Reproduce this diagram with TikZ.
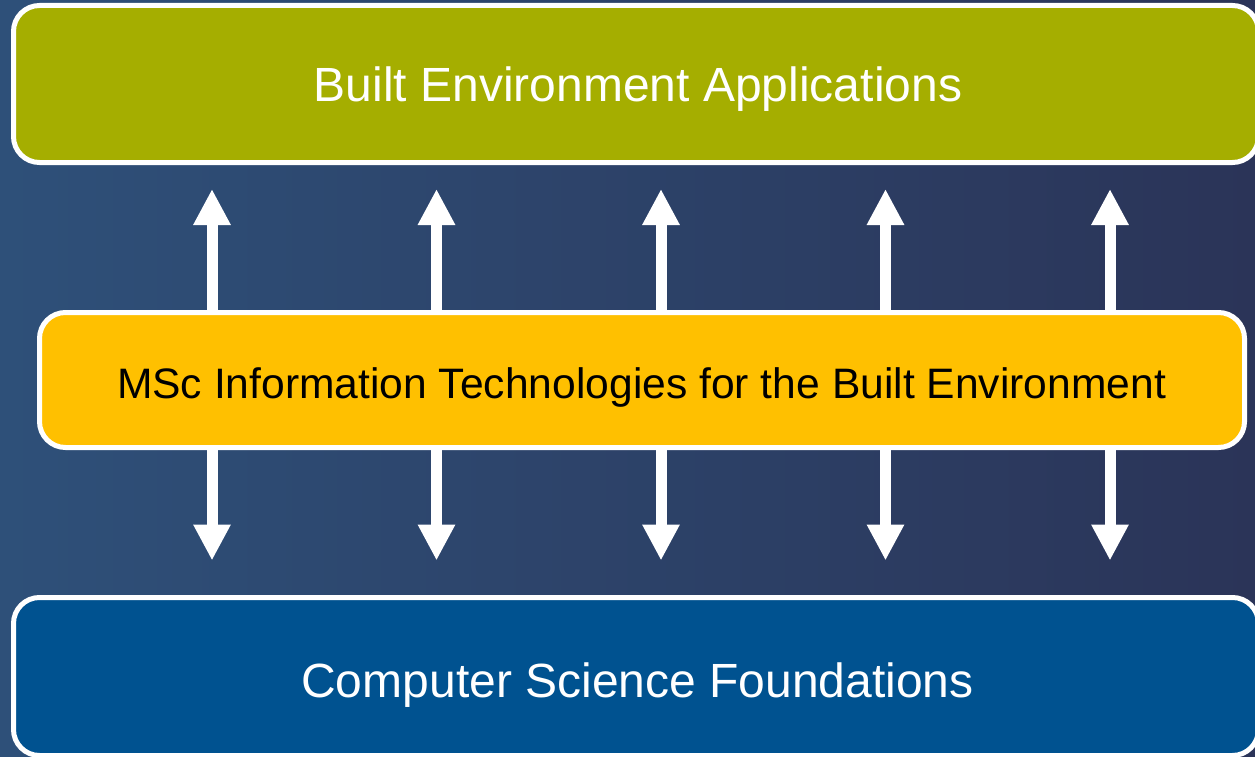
\documentclass[tikz,border=0pt]{standalone}
\usepackage{fontspec}
\setmainfont{Liberation Sans}
\usetikzlibrary{arrows.meta}
\definecolor{bgleft}{RGB}{46,80,121}
\definecolor{bgright}{RGB}{43,52,88}
\definecolor{olivefill}{RGB}{165,174,0}
\definecolor{amberfill}{RGB}{255,192,0}
\definecolor{bluefill}{RGB}{0,82,144}
\tikzset{
  layerbox/.style={draw=white, line width=5pt, rounded corners=26pt, inner sep=0pt, outer sep=0pt},
  bigtext/.style={anchor=base, inner sep=0pt, font=\fontsize{48}{56}\selectfont},
  midtext/.style={anchor=base, inner sep=0pt, font=\fontsize{42.6}{50}\selectfont},
  biarrow/.style={draw=white, line width=11pt, -{Triangle[length=36pt,width=35pt]}}
}
\begin{document}
\begin{tikzpicture}[x=1pt,y=-1pt]
\useasboundingbox (0,0) rectangle (1255,757);
\clip (0,0) rectangle (1255,757);
\shade[left color=bgleft, right color=bgright] (0,0) rectangle (1255,757);
% boxes
\node[layerbox, fill=olivefill, minimum width=1245pt, minimum height=157pt] (top) at (636,84) {};
\node[layerbox, fill=bluefill, minimum width=1245pt, minimum height=158pt] (bot) at (636,676.5) {};
% arrows
\foreach \i/\x in {1/212,2/436.5,3/661,4/885.5,5/1110}{
  \coordinate (u\i) at (\x,312.5);
  \coordinate (d\i) at (\x,447.5);
  \draw[biarrow, shorten >=26.5pt] (u\i) -- (u\i |- top.south);
  \draw[biarrow, shorten >=37pt] (d\i) -- (d\i |- bot.north);
}
\node[layerbox, fill=amberfill, minimum width=1205pt, minimum height=135pt] (mid) at (642,380) {};
% texts
\node[bigtext, text=white] (toptext) at (638,102) {Built Environment Applications};
\node[midtext, text=black] (midtext) at (641.5,398) {MSc Information Technologies for the Built Environment};
\node[bigtext, text=white] (bottext) at (637.5,697) {Computer Science Foundations};
\end{tikzpicture}
\end{document}
